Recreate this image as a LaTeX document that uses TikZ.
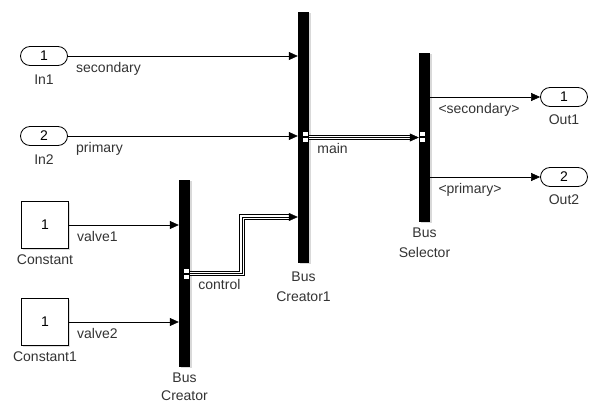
\documentclass[tikz,border=0pt]{standalone}
\usepackage{fontspec}
\setmainfont{Liberation Sans}
\usetikzlibrary{positioning,arrows.meta,shadows}

\begin{document}
\begin{tikzpicture}[x=1pt, y=-1pt, >={Triangle[length=9pt,width=8pt]},
    font=\fontsize{14}{16}\selectfont,
    port/.style={draw, thick, rounded corners=9.5pt, minimum width=47pt, minimum height=19pt,
        inner sep=0pt, fill=white},
    block/.style={draw, thick, minimum width=47pt, minimum height=47pt, inner sep=0pt,
        fill=white, drop shadow={shadow xshift=1.5pt, shadow yshift=-1.5pt, opacity=0.25}},
    bar/.style={fill=black, minimum width=11pt, inner sep=0pt,
        drop shadow={shadow xshift=2pt, shadow yshift=-1pt, opacity=0.3}},
    sig/.style={->, semithick},
    sigl/.style={anchor=north west, inner sep=0pt, xshift=8pt, yshift=-6pt, text=black!80},
    blkname/.style={inner sep=1pt, text=black!80, align=center, font=\fontsize{14}{20}\selectfont}]

    \useasboundingbox (0,0) rectangle (590,404);

    % Sources
    \node[port] (in1) at (44,56) {1};
    \node[port] (in2) at (44,136) {2};
    \node[block] (const) at (45,225) {1};
    \node[block] (const1) at (45,322) {1};
    \node[blkname, below=8pt of in1] (in1n) {In1};
    \node[blkname, below=8pt of in2] (in2n) {In2};
    \node[blkname, below=5pt of const] (constn) {Constant};
    \node[blkname, below=5pt of const1] (const1n) {Constant1};

    % Bus blocks
    \node[bar, minimum height=187pt] (bc) at (184.5,273.5) {};
    \node[bar, minimum height=251pt] (bc1) at (303.5,137.5) {};
    \node[bar, minimum height=169pt] (bs) at (424.5,137.5) {};
    \node[blkname, below=4pt of bc, font=\fontsize{14}{18}\selectfont] (bcn) {Bus\\Creator};
    \node[blkname, below=7pt of bc1] (bc1n) {Bus\\Creator1};
    \node[blkname, below=4pt of bs] (bsn) {Bus\\Selector};

    % Sinks
    \node[port] (out1) at (564,97) {1};
    \node[port] (out2) at (564,177) {2};
    \node[blkname, below=7pt of out1] (out1n) {Out1};
    \node[blkname, below=7pt of out2] (out2n) {Out2};

    % Bus ports: two small white squares on the bar
    \foreach \b/\s/\dx in {bc/east/-6.5, bc1/east/-6.5, bs/west/1.5} {
        \fill[white] ([shift={(\dx,-5)}]\b.\s) rectangle +(5,4);
        \fill[white] ([shift={(\dx,1)}]\b.\s) rectangle +(5,4);
    }

    % Signals
    \draw[sig] (in1.east) node[sigl] (lsec) {secondary} -- (bc1.west |- in1.east);
    \draw[sig] (in2.east) node[sigl] (lpri) {primary} -- (bc1.west |- in2.east);
    \draw[sig] (const.east) node[sigl] (lv1) {valve1} -- (bc.west |- const.east);
    \draw[sig] (const1.east) node[sigl] (lv2) {valve2} -- (bc.west |- const1.east);
    \draw[sig] (bs.east |- out1.west) node[sigl] (lsel1) {<secondary>} -- (out1.west);
    \draw[sig] (bs.east |- out2.west) node[sigl] (lsel2) {<primary>} -- (out2.west);

    % Bus lines
    \coordinate (kinka) at (242,273.5);
    \coordinate (kinkb) at (242,217);
    \foreach \w/\c in {5.5pt/black, 3.6pt/white, 0.9pt/black} {
        \draw[line width=\w, \c] (bc.east) -- (kinka) -- (kinkb) -- ([xshift=-8pt]bc1.west |- kinkb);
        \draw[line width=\w, \c] (bc1.east) -- ([xshift=-8pt]bs.west);
    }
    \draw[->] ([xshift=-8pt]bc1.west |- kinkb) -- (bc1.west |- kinkb);
    \draw[->] ([xshift=-8pt]bs.west) -- (bs.west);
    \node[sigl] (lctl) at (bc.east) {control};
    \node[sigl] (lmain) at (bc1.east) {main};

\end{tikzpicture}
\end{document}
